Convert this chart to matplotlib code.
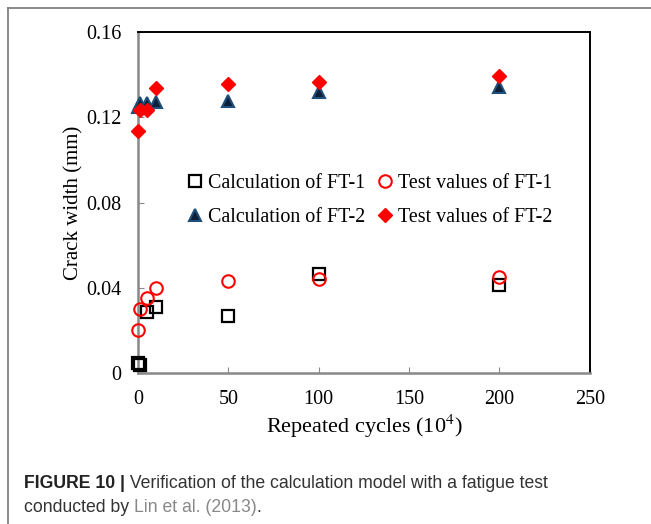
import matplotlib.pyplot as plt
from matplotlib import font_manager
from matplotlib.lines import Line2D

# repeated cycles (10^4)
x_calc1 = [0, 1, 5, 10, 50, 100, 200]
y_calc1 = [0.0045, 0.0038, 0.0285, 0.031, 0.027, 0.0465, 0.0413]
x_test1 = [0, 1, 5, 10, 50, 100, 200]
y_test1 = [0.020, 0.030, 0.035, 0.040, 0.043, 0.044, 0.045]
x_calc2 = [0, 1, 5, 10, 50, 100, 200]
y_calc2 = [0.125, 0.1265, 0.1265, 0.1273, 0.1278, 0.132, 0.1343]
x_test2 = [0, 1, 5, 10, 50, 100, 200]
y_test2 = [0.1136, 0.1234, 0.1234, 0.1337, 0.1355, 0.1367, 0.1395]

plt.rcParams['font.family'] = ['Liberation Serif', 'DejaVu Serif']
plt.rcParams['mathtext.fontset'] = 'stix'

names = {f.name for f in font_manager.fontManager.ttflist}
cap_font = 'Liberation Sans Narrow' if 'Liberation Sans Narrow' in names else 'Liberation Sans'

fig = plt.figure(figsize=(6.51, 5.24), dpi=100)
ax = fig.add_axes([0.212, 0.288, 0.694, 0.651])

h1, = ax.plot(x_calc1, y_calc1, 's', ms=8, mfc='none', mec='black', mew=1.6, ls='none',
              clip_on=False, zorder=3, label='Calculation of FT-1')
h2, = ax.plot(x_test1, y_test1, 'o', ms=9, mfc='none', mec='#ff0000', mew=1.5, ls='none',
              clip_on=False, zorder=3, label='Test values of FT-1')
h3, = ax.plot(x_calc2, y_calc2, '^', ms=8, mfc='#0a1f3a', mec='#1f4e79', mew=1.5, ls='none',
              clip_on=False, zorder=3, label='Calculation of FT-2')
h4, = ax.plot(x_test2, y_test2, 'D', ms=7, mfc='#ff0000', mec='#ff0000', ls='none',
              clip_on=False, zorder=4, label='Test values of FT-2')

ax.set_xlim(0, 250)
ax.set_ylim(0, 0.16)
ax.set_xticks([0, 50, 100, 150, 200, 250])
ax.set_yticks([0, 0.04, 0.08, 0.12, 0.16])
ax.set_yticklabels(['0', '0.04', '0.08', '0.12', '0.16'])
ax.tick_params(direction='in', length=4, color='#888888', labelsize=14.5)
ax.tick_params(axis='x', pad=12)
ax.tick_params(axis='y', pad=12)

for s in ['left', 'bottom']:
    ax.spines[s].set_color('#888888')
    ax.spines[s].set_linewidth(1.8)
for s in ['top', 'right']:
    ax.spines[s].set_color('black')
    ax.spines[s].set_linewidth(1.4)

ax.set_xlabel('Repeated cycles (10$^4$)', fontsize=16, labelpad=3)
ax.set_ylabel('Crack width (mm)', fontsize=15, labelpad=2)

ax.legend(handles=[h1, h3, h2, h4], loc='upper left', bbox_to_anchor=(0.104, 0.585),
          ncol=2, frameon=False, fontsize=14.4, handletextpad=0.15, columnspacing=0.5,
          labelspacing=0.75, handlelength=1.0, borderaxespad=0, borderpad=0)

# page border (top and left only)
fig.add_artist(Line2D([8 / 651, 1], [1 - 8 / 524, 1 - 8 / 524], transform=fig.transFigure,
                      color='#777777', lw=1.2))
fig.add_artist(Line2D([8 / 651, 8 / 651], [0, 1 - 8 / 524], transform=fig.transFigure,
                      color='#777777', lw=1.2))

# caption
r = fig.canvas.get_renderer()
fs = 12.7
y1 = 1 - 488 / 524
y2 = 1 - 512 / 524
x0 = 24 / 651
t = fig.text(x0, y1, 'FIGURE 10 |', fontsize=fs, weight='bold', family=cap_font, color='#222222')
w = t.get_window_extent(r).width / 651
fig.text(x0 + w, y1, ' Verification of the calculation model with a fatigue test',
         fontsize=fs, family=cap_font, color='#333333')
t = fig.text(x0, y2, 'conducted by ', fontsize=fs, family=cap_font, color='#333333')
w = t.get_window_extent(r).width / 651
t2 = fig.text(x0 + w, y2, 'Lin et al. (2013)', fontsize=fs, family=cap_font, color='#888888')
w2 = t2.get_window_extent(r).width / 651
fig.text(x0 + w + w2, y2, '.', fontsize=fs, family=cap_font, color='#333333')

fig.savefig('out.png', dpi=100)
